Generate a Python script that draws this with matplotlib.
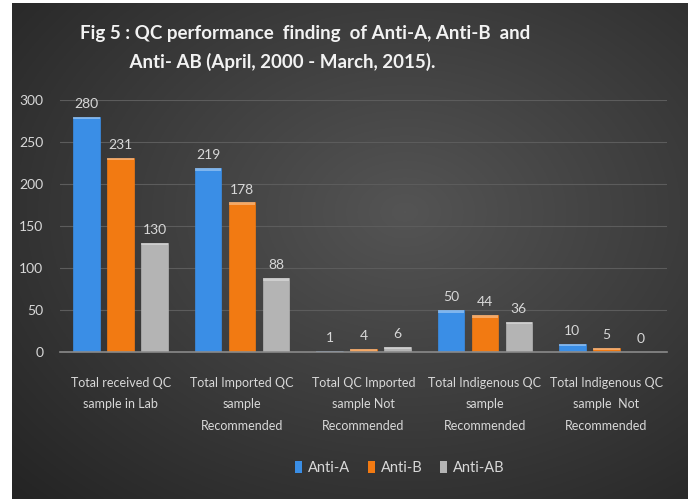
import numpy as np
import matplotlib
matplotlib.use("Agg")
import matplotlib.pyplot as plt
from matplotlib.patches import Patch
from matplotlib import font_manager

categories = ["Total received QC\nsample in Lab",
              "Total Imported QC\nsample\nRecommended",
              "Total QC Imported\nsample Not\nRecommended",
              "Total Indigenous QC\nsample\nRecommended",
              "Total Indigenous QC\nsample  Not\nRecommended"]
series_names = ["Anti-A", "Anti-B", "Anti-AB"]
anti_a = [280, 219, 1, 50, 10]
anti_b = [231, 178, 4, 44, 5]
anti_ab = [130, 88, 6, 36, 0]
yticks = [0, 50, 100, 150, 200, 250, 300]
title = "Fig 5 : QC performance  finding  of Anti-A, Anti-B  and\n           Anti- AB (April, 2000 - March, 2015)."

colors = ["#3a8ee6", "#f27a12", "#b4b4b4"]
installed = {f.name for f in font_manager.fontManager.ttflist}
main = "Lato" if "Lato" in installed else "DejaVu Sans"
FONT = [main, "DejaVu Sans"]
txtc = "#d8d8d8"

W, H = 688, 499
fig = plt.figure(figsize=(W / 100, H / 100), dpi=100, facecolor="white")

# background radial gradient
bg = fig.add_axes([12 / W, 0, (W - 12) / W, (H - 3) / H], zorder=0)
ny, nx = 300, 400
yy, xx = np.mgrid[0:ny, 0:nx]
cx, cy = nx * 0.58, ny * 0.42
r = np.sqrt(((xx - cx) / nx) ** 2 + ((yy - cy) / ny) ** 2)
r = r / r.max()
v = 0.33 - 0.19 * r
img = np.dstack([v, v, v])
bg.imshow(img, aspect="auto", extent=[0, 1, 0, 1])
bg.set_axis_off()

ax = fig.add_axes([60 / W, (H - 352) / H, (667 - 60) / W, (352 - 100) / H], zorder=1)
ax.patch.set_alpha(0)
x = np.arange(len(categories))
w = 0.22
off = 0.28
for i, (vals, c, name) in enumerate(zip([anti_a, anti_b, anti_ab], colors, series_names)):
    pos = x + (i - 1) * off
    ax.bar(pos, vals, width=w, color=c, zorder=3, label=name,
           edgecolor=c, linewidth=0.5)
    ax.bar(pos, [min(3, vv) for vv in vals], bottom=[vv - min(3, vv) for vv in vals],
           width=w, color="white", alpha=0.35, zorder=4, linewidth=0)
    for p, vv in zip(pos, vals):
        ax.annotate(str(vv), (p, vv), xytext=(0, 5), textcoords="offset points",
                    ha="center", va="bottom", color=txtc, fontsize=10, family=FONT)

ax.set_xlim(-0.5, 4.5)
ax.set_ylim(0, 300)
ax.set_yticks(yticks)
ax.set_yticklabels([str(t) for t in yticks], color=txtc, fontsize=10, family=FONT)
ax.set_xticks(x)
ax.set_xticklabels(categories, color=txtc, fontsize=9, family=FONT, linespacing=1.95, va="top")
ax.tick_params(axis="x", length=0, pad=18)
ax.tick_params(axis="y", length=0, pad=12)
ax.grid(axis="y", color="#5c5c5c", linewidth=0.8, zorder=0)
for s in ["top", "right", "left"]:
    ax.spines[s].set_visible(False)
ax.spines["bottom"].set_color("#8a8a8a")
ax.spines["bottom"].set_linewidth(1.2)
ax.spines["bottom"].set_zorder(5)

fig.text(80 / W, 1 - 48 / H, title, color="#f2f2f2", fontsize=13.5, fontweight="bold",
         family=FONT, ha="left", va="center", linespacing=1.75)

handles = [Patch(facecolor=c, edgecolor="none") for c in colors]
fig.legend(handles, series_names, loc="center", bbox_to_anchor=(400 / W, 1 - 468 / H),
           ncol=3, frameon=False, handlelength=0.5, handleheight=0.9, handletextpad=0.4,
           columnspacing=1.2, prop={"family": FONT, "size": 10.5}, labelcolor=txtc)

fig.savefig("out.png", dpi=100, facecolor=fig.get_facecolor())
